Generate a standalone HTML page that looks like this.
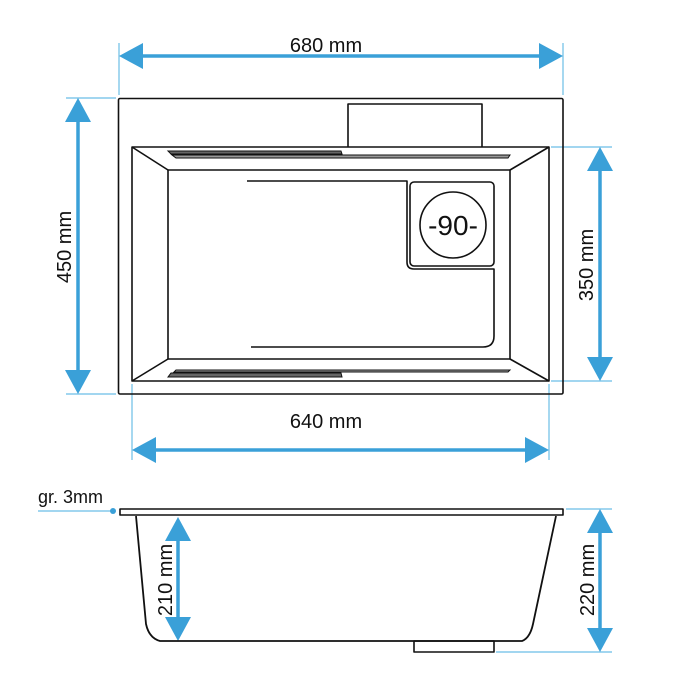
<!DOCTYPE html>
<html><head><meta charset="utf-8"><style>
html,body{margin:0;padding:0;background:#fff;}
svg{display:block;}
text{font-family:"Liberation Sans",Arial,sans-serif;font-size:20px;fill:#111;}
</style></head><body>
<svg width="693" height="693" viewBox="0 0 693 693" xmlns="http://www.w3.org/2000/svg">
<defs>
<marker id="ah" viewBox="0 0 24 26" refX="0" refY="13" markerWidth="24" markerHeight="26" markerUnits="userSpaceOnUse" orient="auto-start-reverse">
<path d="M0,0 L24,13 L0,26 Z" fill="#3aa0d8"/>
</marker>
</defs>
<g stroke="#6bbde6" stroke-width="1.2" fill="none">
<line x1="119" y1="43" x2="119" y2="95"/>
<line x1="563" y1="43" x2="563" y2="95"/>
<line x1="66" y1="98" x2="116" y2="98"/>
<line x1="66" y1="394" x2="116" y2="394"/>
<line x1="551" y1="147" x2="612" y2="147"/>
<line x1="551" y1="381" x2="612" y2="381"/>
<line x1="132" y1="384" x2="132" y2="460"/>
<line x1="549" y1="384" x2="549" y2="460"/>
<line x1="38" y1="511" x2="113" y2="511"/>
<line x1="566" y1="509" x2="612" y2="509"/>
<line x1="496" y1="652" x2="612" y2="652"/>
</g>
<circle cx="113" cy="511" r="3" fill="#3aa0d8"/>
<g stroke="#3aa0d8" stroke-width="3.5" fill="none">
<line x1="143" y1="56" x2="539" y2="56" marker-start="url(#ah)" marker-end="url(#ah)"/>
<line x1="78" y1="122" x2="78" y2="370" marker-start="url(#ah)" marker-end="url(#ah)"/>
<line x1="600" y1="171" x2="600" y2="357" marker-start="url(#ah)" marker-end="url(#ah)"/>
<line x1="156" y1="450" x2="525" y2="450" marker-start="url(#ah)" marker-end="url(#ah)"/>
<line x1="178" y1="541" x2="178" y2="617" marker-start="url(#ah)" marker-end="url(#ah)"/>
<line x1="600" y1="533" x2="600" y2="628" marker-start="url(#ah)" marker-end="url(#ah)"/>
</g>
<text x="326" y="52" text-anchor="middle">680 mm</text>
<text x="326" y="428" text-anchor="middle">640 mm</text>
<text transform="translate(71,247) rotate(-90)" text-anchor="middle">450 mm</text>
<text transform="translate(593,265) rotate(-90)" text-anchor="middle">350 mm</text>
<text transform="translate(172,580) rotate(-90)" text-anchor="middle">210 mm</text>
<text transform="translate(594,580) rotate(-90)" text-anchor="middle">220 mm</text>
<text x="38" y="503" style="font-size:18px">gr. 3mm</text>
<g stroke="#111" stroke-width="1.6" fill="none" stroke-linejoin="round">
<rect x="118.5" y="98.5" width="444.5" height="295.5" rx="1.5"/>
<polyline points="348,147 348,104 482,104 482,147"/>
<rect x="132" y="147" width="417" height="234"/>
<rect x="168" y="170" width="342" height="189"/>
<line x1="132" y1="147" x2="168" y2="170"/>
<line x1="549" y1="147" x2="510" y2="170"/>
<line x1="132" y1="381" x2="168" y2="359"/>
<line x1="549" y1="381" x2="510" y2="359"/>
<path d="M247,181 L407,181 L407,262 Q407,269 414,269 L494,269 L494,336 Q494,347 483,347 L251,347"/>
<rect x="410" y="182" width="84" height="84" rx="4"/>
<circle cx="453" cy="225" r="33"/>
<path d="M120,509 L563,509 L563,515 L120,515 Z"/>
<path d="M136,516 L146,624 Q149,638 160,641 L522,641 Q530,638 533,624 L556,516" stroke-width="1.8"/>
<rect x="414" y="641" width="80" height="11"/>
</g>
<g stroke="#111" stroke-width="1" fill="#666">
<path d="M168,151 L341,151 L342,154 L171,154 Z"/>
<path d="M172,155 L510,155 L508,158 L176,158 Z" fill="#999"/>
<path d="M176,370 L510,370 L508,372 L174,372 Z" fill="#999"/>
<path d="M171,373 L341,373 L342,377 L168,377 Z"/>
</g>
<text x="453" y="235" text-anchor="middle" style="font-size:28px">-90-</text>
</svg>
</body></html>
